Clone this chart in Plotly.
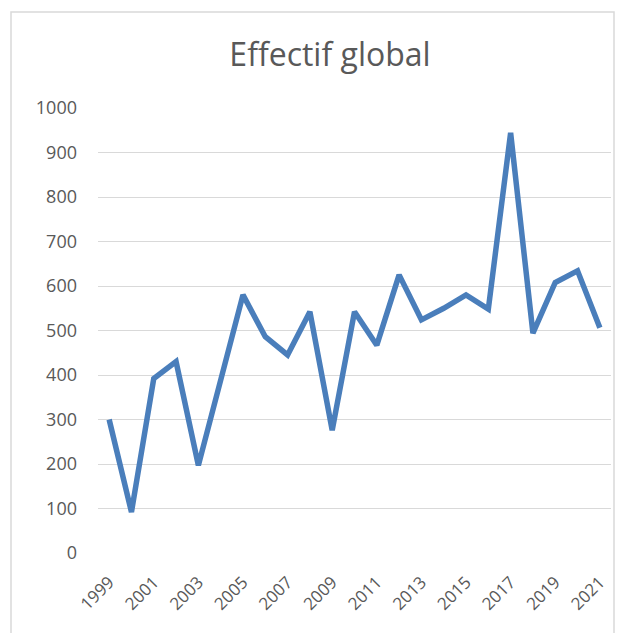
import plotly.graph_objects as go

years = list(range(1999, 2022))
effectif = [300, 92, 392, 430, 197, 390, 580, 486, 445, 542, 276, 542, 467,
            625, 524, 550, 580, 548, 944, 494, 608, 634, 506]
tick_years = list(range(1999, 2022, 2))
tick_labels = [str(y) for y in tick_years]
y_ticks = list(range(0, 1001, 100))

OFF = 8  # page body margin
W, H = 625, 633
L, T = 98 - OFF, 108 - OFF
R = W - (611 - OFF)
B = H - (553 - OFF)
pw, ph = W - L - R, H - T - B

def px_x(px):
    return (px - OFF - L) / pw

def px_y(py):
    return (H - B - (py - OFF)) / ph

fig = go.Figure()
fig.add_trace(go.Scatter(
    x=years, y=effectif, mode="lines",
    line=dict(color="#4A7EBB", width=5.5, shape="linear"),
    hoverinfo="x+y", showlegend=False,
))

font_family = "Open Sans, Noto Sans, Liberation Sans, sans-serif"
fig.update_layout(
    width=W, height=H,
    margin=dict(l=L, r=R, t=T, b=B, autoexpand=False),
    paper_bgcolor="white", plot_bgcolor="white",
    title=dict(text="Effectif global", x=(330 - OFF) / W, xref="container", xanchor="center",
               y=1 - (55 - OFF) / H, yref="container", yanchor="middle",
               font=dict(family=font_family, size=32, color="#595959")),
    font=dict(family=font_family, color="#595959", size=18),
    xaxis=dict(range=[1998.5, 2021.5], tickmode="array", tickvals=tick_years,
               ticktext=tick_labels, tickangle=-45, showgrid=False, zeroline=False,
               showline=False, ticks="", ticklabelstandoff=15,
               tickfont=dict(size=17, color="#595959")),
    yaxis=dict(range=[0, 1000], tickmode="array", tickvals=y_ticks,
               showgrid=True, gridcolor="#D9D9D9", gridwidth=1.3, zeroline=False,
               showline=False, ticks="", ticklabelstandoff=20,
               tickfont=dict(size=18, color="#595959")),
    shapes=[dict(type="rect", xref="paper", yref="paper",
                 x0=px_x(11), x1=px_x(614), y0=px_y(650), y1=px_y(12),
                 line=dict(color="#D9D9D9", width=1.5), layer="below")],
)

fig.write_html("out.html")
